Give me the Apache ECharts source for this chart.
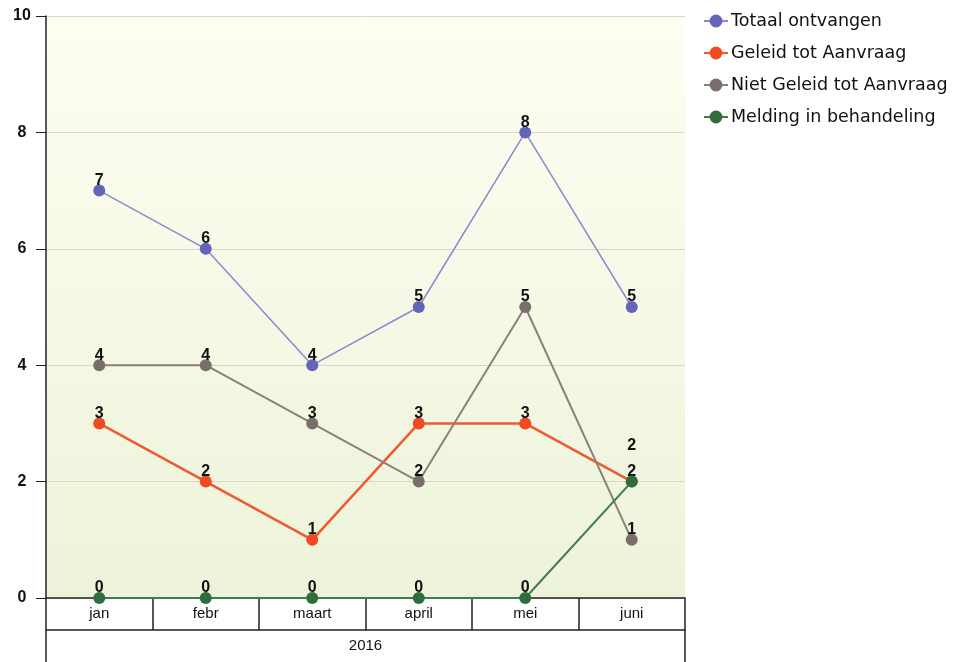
<!DOCTYPE html>
<html><head><meta charset="utf-8">
<script src="https://cdn.jsdelivr.net/npm/echarts@6/dist/echarts.min.js"></script>
<style>html,body{margin:0;padding:0;background:#fff}#c{width:957px;height:662px}</style>
</head><body><div id="c"></div>
<script>
const categories = ['jan','febr','maart','april','mei','juni'];
const yearLabels = ['2016'];
const totaal = [7,6,4,5,8,5];
const geleid = [3,2,1,3,3,2];
const nietGeleid = [4,4,3,2,5,1];
const melding = [0,0,0,0,0,2];
const seriesNames = ['Totaal ontvangen','Geleid tot Aanvraag','Niet Geleid tot Aanvraag','Melding in behandeling'];

const chart = echarts.init(document.getElementById('c'));
const font = 'Liberation Sans, Arial, sans-serif';
const lbl = {show:true, position:'top', distance:-4, color:'#111', fontSize:16, fontWeight:'bold', fontFamily:font};
function mk(name, data, color, lineColor, width, z){
  return {name, type:'line', data, symbol:'circle', symbolSize:12, z,
    itemStyle:{color}, lineStyle:{color:lineColor, width}, label:lbl, emphasis:{disabled:true}};
}
const meldingData = melding.map((v,i)=> i===5 ? {value:v, label:{offset:[0,-26]}} : v);
chart.setOption({
  animation:false,
  textStyle:{fontFamily:font},
  grid:{left:46, right:272, top:16, bottom:64, show:true, borderWidth:0,
    backgroundColor:{type:'linear',x:0,y:0,x2:0,y2:1,colorStops:[{offset:0,color:'#fefef2'},{offset:1,color:'#edf3da'}]}},
  legend:{orient:'vertical', left:698, top:7, itemGap:14, itemWidth:24, itemHeight:16,
    textStyle:{fontSize:17.5, color:'#111', fontFamily:'DejaVu Sans, sans-serif', padding:[0,0,0,-2]}, data:seriesNames},
  xAxis:[
    {type:'category', data:categories, position:'bottom', boundaryGap:true,
     axisLine:{show:true, lineStyle:{color:'#222', width:1.5}},
     axisTick:{show:true, length:32, alignWithLabel:false, lineStyle:{color:'#222', width:1.5}},
     axisLabel:{color:'#111', fontSize:15, margin:8, fontFamily:font}},
    {type:'category', data:yearLabels, position:'bottom', offset:32, boundaryGap:true,
     axisLine:{show:true, lineStyle:{color:'#222', width:1.5}},
     axisTick:{show:true, length:40, alignWithLabel:false, lineStyle:{color:'#222', width:1.5}},
     axisLabel:{color:'#111', fontSize:15, margin:8, fontFamily:font}}
  ],
  yAxis:{type:'value', min:0, max:10, interval:2,
    axisLine:{show:true, lineStyle:{color:'#222', width:1.5}},
    axisTick:{show:true, length:10, lineStyle:{color:'#222'}},
    axisLabel:{color:'#111', fontSize:16, fontWeight:'bold', margin:24, align:'center', fontFamily:font},
    splitLine:{show:true, lineStyle:{color:'#d4d9c6', width:1}}},
  series:[
    mk(seriesNames[0], totaal, '#6464b8', '#8a8ad0', 1.5, 2),
    mk(seriesNames[1], geleid, '#f04a22', '#f05a30', 2.5, 3),
    mk(seriesNames[2], nietGeleid, '#7a6e6a', '#8a807c', 2, 4),
    mk(seriesNames[3], meldingData, '#2f6e3c', '#3f7d48', 2, 5)
  ]
});
</script></body></html>
